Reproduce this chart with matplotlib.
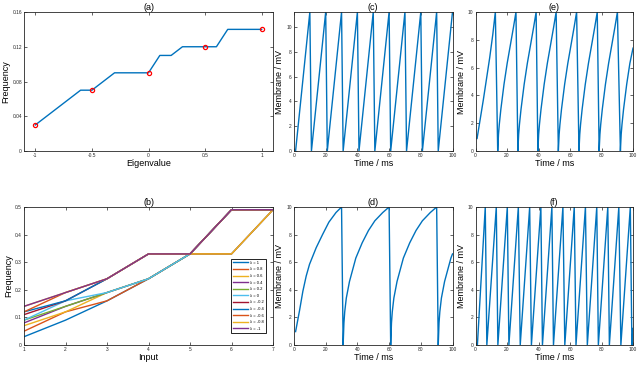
import matplotlib
matplotlib.use("Agg")
import matplotlib.pyplot as plt

plt.rcParams['font.family'] = ['Liberation Sans', 'DejaVu Sans']

# MATLAB default colour order
colors = ['#0072BD', '#D95319', '#EDB120', '#7E2F8E', '#77AC30', '#4DBEEE', '#A2142F']

# (a) frequency vs eigenvalue
eig = [-1, -0.9, -0.8, -0.7, -0.6, -0.5, -0.4, -0.3, -0.2, -0.1, 0,
       0.1, 0.2, 0.3, 0.4, 0.5, 0.6, 0.7, 0.8, 0.9, 1]
freq_a = [0.03, 0.04, 0.05, 0.06, 0.07, 0.07, 0.08, 0.09, 0.09, 0.09, 0.09,
          0.11, 0.11, 0.12, 0.12, 0.12, 0.12, 0.14, 0.14, 0.14, 0.14]
mark_eig = [-1, -0.5, 0, 0.5, 1]
mark_freq = [0.03, 0.07, 0.09, 0.12, 0.14]

# (b) frequency vs input, one curve per eigenvalue
inputs = [1, 2, 3, 4, 5, 6, 7]
lam_labels = ['λ = 1', 'λ = 0.8', 'λ = 0.6', 'λ = 0.4', 'λ = 0.2', 'λ = 0',
              'λ = -0.2', 'λ = -0.4', 'λ = -0.6', 'λ = -0.8', 'λ = -1']
freq_b = [
    [0.03, 0.09, 0.16, 0.24, 0.33, 0.33, 0.49],
    [0.05, 0.12, 0.16, 0.24, 0.33, 0.33, 0.49],
    [0.07, 0.12, 0.19, 0.24, 0.33, 0.33, 0.49],
    [0.08, 0.14, 0.19, 0.24, 0.33, 0.49, 0.49],
    [0.09, 0.14, 0.19, 0.24, 0.33, 0.49, 0.49],
    [0.09, 0.16, 0.19, 0.24, 0.33, 0.49, 0.49],
    [0.11, 0.16, 0.24, 0.33, 0.33, 0.49, 0.49],
    [0.12, 0.16, 0.24, 0.33, 0.33, 0.49, 0.49],
    [0.12, 0.19, 0.24, 0.33, 0.33, 0.49, 0.49],
    [0.14, 0.19, 0.24, 0.33, 0.33, 0.49, 0.49],
    [0.14, 0.19, 0.24, 0.33, 0.33, 0.49, 0.49],
]

# (c) membrane trace, linear ramps
c_first_t = [1, 10]
c_first_v = [0, 11.2]
c_resets = [11, 21, 31, 41, 51, 61, 71, 81, 91]
c_rise_t = [0, 9]
c_rise_v = [0, 11.2]
c_end = (100, 11.2)

# (d) membrane trace, slow saturating rise
d_first_t = [1, 3.5, 5.6, 7.7, 9.8, 14, 18, 22, 26.5, 30]
d_first_v = [0.97, 2.5, 3.9, 5.0, 5.85, 7.05, 8.0, 8.9, 9.6, 10]
d_resets = [31, 61, 91]
d_rise_t = [0, 0.5, 1, 2, 4, 8, 12, 16, 20, 25, 29]
d_rise_v = [0, 1.6, 2.4, 3.4, 4.6, 6.3, 7.4, 8.3, 9.0, 9.6, 10]
d_end = (100, 6.6)

# (e) membrane trace, faster saturating rise
e_first_t = [1, 3, 5, 7, 9, 11, 12.6]
e_first_v = [0.9, 2.3, 3.7, 5.2, 6.7, 8.4, 10]
e_resets = [14.1, 26.9, 39.6, 52.6, 65.7, 78.5, 92.0]
e_rise_t = [0, 0.5, 1, 2, 3, 4, 6, 8, 10, 11.6]
e_rise_v = [0, 1.2, 1.9, 3.0, 3.9, 4.8, 6.3, 7.6, 8.9, 10]
e_end = (100, 7.4)

# (f) membrane trace, fast linear ramps
f_first_t = [1.2, 6.2]
f_first_v = [0, 10]
f_resets = [7.2, 14.2, 21.2, 28.4, 35.5, 42.5, 49.5, 56.7, 63.8, 71, 78, 85, 92.3, 99.3]
f_rise_t = [0, 6]
f_rise_v = [0, 10]
f_end = (100, 1.2)


def trace(first_t, first_v, resets, rise_t, rise_v, end):
    t = list(first_t)
    v = list(first_v)
    for r in resets:
        for dt, dv in zip(rise_t, rise_v):
            if r + dt < end[0]:
                t.append(r + dt)
                v.append(dv)
    t.append(end[0])
    v.append(end[1])
    return t, v


def style(ax, title, xlabel, ylabel):
    ax.set_title(title, fontsize=6.5, pad=1.5)
    ax.set_xlabel(xlabel, fontsize=6.5, labelpad=1)
    ax.set_ylabel(ylabel, fontsize=6.5, labelpad=1.5)
    ax.tick_params(direction='in', length=2, width=0.5, pad=1.5, labelsize=3.5,
                   top=True, right=True, colors='#262626')
    for s in ax.spines.values():
        s.set_linewidth(0.6)
        s.set_color('#262626')


fig = plt.figure(figsize=(6.4, 3.65), dpi=100)

W = 365.0
ax_a = fig.add_axes([24 / 640, 1 - 151 / W, 249 / 640, 139 / W])
ax_b = fig.add_axes([24 / 640, 1 - 345 / W, 249 / 640, 138 / W])
ax_c = fig.add_axes([294 / 640, 1 - 151 / W, 158.5 / 640, 139 / W])
ax_d = fig.add_axes([294 / 640, 1 - 345 / W, 158.5 / 640, 138 / W])
ax_e = fig.add_axes([475.5 / 640, 1 - 151 / W, 157.5 / 640, 139 / W])
ax_f = fig.add_axes([475.5 / 640, 1 - 345 / W, 157.5 / 640, 138 / W])

# (a)
ax_a.plot(eig, freq_a, color=colors[0], lw=1.0)
ax_a.plot(mark_eig, mark_freq, 'o', mfc='none', mec='red', ms=3, mew=0.9)
ax_a.set_xlim(-1.1, 1.1)
ax_a.set_ylim(0, 0.16)
ax_a.set_xticks([-1, -0.5, 0, 0.5, 1], ['-1', '-0.5', '0', '0.5', '1'])
ax_a.set_yticks([0, 0.04, 0.08, 0.12, 0.16], ['0', '0.04', '0.08', '0.12', '0.16'])
style(ax_a, '(a)', 'Eigenvalue', 'Frequency')

# (b)
for i, fb in enumerate(freq_b):
    ax_b.plot(inputs, fb, color=colors[i % 7], lw=1.0, label=lam_labels[i])
ax_b.set_xlim(1, 7)
ax_b.set_ylim(0, 0.5)
ax_b.set_xticks(inputs)
ax_b.set_yticks([0, 0.1, 0.2, 0.3, 0.4, 0.5], ['0', '0.1', '0.2', '0.3', '0.4', '0.5'])
style(ax_b, '(b)', 'Input', 'Frequency')
leg = ax_b.legend(loc='upper right', bbox_to_anchor=(0.972, 0.623), borderaxespad=0,
                  fontsize=3, handlelength=3.5, handletextpad=0.6, labelspacing=0.62,
                  borderpad=0.45, fancybox=False, framealpha=1, edgecolor='black')
leg.get_frame().set_linewidth(0.6)

# membrane panels
panels = [
    (ax_c, '(c)', trace(c_first_t, c_first_v, c_resets, c_rise_t, c_rise_v, c_end), 11.2),
    (ax_d, '(d)', trace(d_first_t, d_first_v, d_resets, d_rise_t, d_rise_v, d_end), 10),
    (ax_e, '(e)', trace(e_first_t, e_first_v, e_resets, e_rise_t, e_rise_v, e_end), 10),
    (ax_f, '(f)', trace(f_first_t, f_first_v, f_resets, f_rise_t, f_rise_v, f_end), 10),
]
for ax, title, (t, v), top in panels:
    ax.plot(t, v, color=colors[0], lw=1.0)
    ax.set_xlim(0, 100)
    ax.set_ylim(0, top)
    ax.set_xticks([0, 20, 40, 60, 80, 100])
    ax.set_yticks([0, 2, 4, 6, 8, 10])
    style(ax, title, 'Time / ms', 'Membrane / mV')

fig.savefig('out.png', dpi=100)
